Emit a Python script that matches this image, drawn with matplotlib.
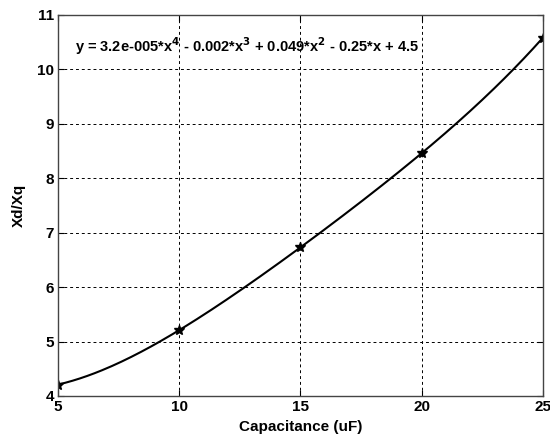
import numpy as np
import matplotlib.pyplot as plt

plt.rcParams['font.family'] = ['Liberation Sans', 'DejaVu Sans']
plt.rcParams['font.weight'] = 'bold'

# measured points
cap = [5, 10, 15, 20, 25]
ratio = [4.21, 5.21, 6.73, 8.46, 10.58]
eq_text = r"y = 3.2e-005*x$^{4}$ - 0.002*x$^{3}$ + 0.049*x$^{2}$ - 0.25*x + 4.5"

# 4th order fit through the points
coef = np.polyfit(cap, ratio, 4)
xs = np.linspace(cap[0], cap[-1], 200)
ys = np.polyval(coef, xs)

fig = plt.figure(figsize=(5.5, 4.38), dpi=100)
ax = fig.add_axes([0.1055, 0.0959, 0.8815, 0.87])

ax.plot(xs, ys, color='black', lw=1.5)
ax.plot(cap, ratio, linestyle='none', marker='*', color='black', markersize=7)

ax.set_xlim(5, 25)
ax.set_ylim(4, 11)
ax.set_xticks([5, 10, 15, 20, 25])
ax.set_yticks(range(4, 12))
ax.grid(True, color='black', linestyle=(0, (3, 3)), lw=0.7)
ax.tick_params(direction='in', top=True, right=True, length=4, labelsize=11, pad=3)
for lab in ax.get_xticklabels() + ax.get_yticklabels():
    lab.set_fontweight('bold')
for s in ax.spines.values():
    s.set_color('#444444')
    s.set_linewidth(1.0)

ax.set_xlabel("Capacitance (uF)", fontsize=11, fontweight='bold', labelpad=4)
ax.set_ylabel("Xd/Xq", fontsize=11, fontweight='bold', labelpad=8)
ax.text(5.7, 10.42, eq_text, fontsize=10.5, fontweight='bold', va='center')

fig.savefig("out.png", dpi=100)
